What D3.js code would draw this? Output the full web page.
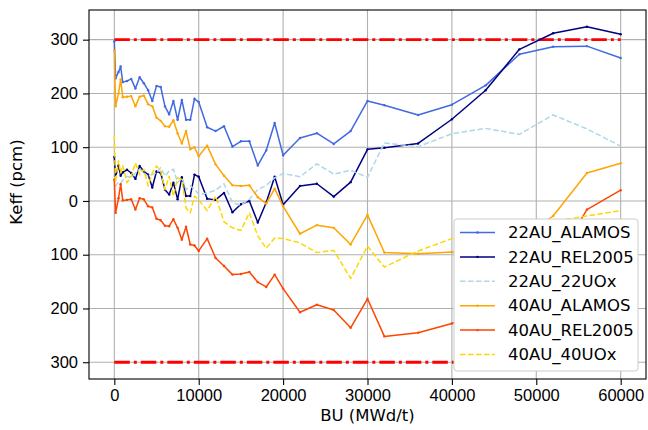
<!DOCTYPE html>
<html>
<head>
<meta charset="utf-8">
<script src="https://cdn.jsdelivr.net/npm/d3@7"></script>
<style>
  body { margin: 0; background: #fff; }
  svg { display: block; font-family: "DejaVu Sans", sans-serif; }
</style>
</head>
<body>
<svg class="chart"></svg>
<script>
// burnup steps (MWd/t), same for every case
const bu = [0, 150, 500, 750, 1000, 1500, 2000, 2500, 3000, 3500, 4000, 4500, 5000, 5500,
  6000, 6500, 7000, 7500, 8000, 8500, 9000, 9500, 10000, 11000, 12000, 13000, 14000, 15000,
  16000, 17000, 18000, 19000, 20000, 22000, 24000, 26000, 28000, 30000, 32000, 36000, 40000,
  44000, 48000, 52000, 56000, 60000];

// keff difference in pcm for each case
const au22Alamos = [297, 228, 240, 250, 221, 223, 227, 209, 230, 219, 206, 186, 214, 212,
  176, 161, 186, 151, 188, 151, 151, 190, 184, 137, 130, 139, 101, 111,
  111, 66, 94, 145, 85, 117, 126, 106, 130, 186, 178, 160, 179,
  215, 273, 287, 288, 266];

const au22Rel2005 = [82, 45, 66, 47, 53, 58, 52, 41, 65, 55, 49, 25, 55, 52,
  21, 12, 34, 3, 44, 9, 9, 49, 45, 4, 2, 15, -21, -6,
  0, -40, -3, 45, -7, 28, 32, 8, 35, 96, 99, 107, 152,
  206, 282, 312, 324, 310];

const au22Uox = [45, 28, 35, 33, 38, 46, 43, 52, 59, 52, 46, 49, 52, 62,
  46, 56, 59, 34, 43, 21, 28, 22, 12, 15, 20, 32, -3, -8,
  3, 21, 29, 43, 51, 45, 69, 50, 57, 44, 108, 101, 125,
  135, 124, 160, 134, 102];

const au40Alamos = [280, 176, 200, 226, 193, 194, 195, 176, 194, 196, 180, 176, 155, 149,
  139, 138, 150, 126, 107, 130, 96, 100, 83, 103, 68, 47, 29, 28,
  29, 7, -5, 23, -10, -61, -45, -50, -81, -26, -96, -98, -95,
  -96, -72, -28, 52, 70];

const au40Rel2005 = [40, -22, 5, 31, 1, 2, 3, -16, 5, 3, -10, -12, -33, -36,
  -46, -47, -34, -50, -72, -48, -81, -83, -93, -70, -106, -121, -137, -136,
  -132, -151, -160, -137, -163, -207, -193, -203, -236, -182, -252, -245, -228,
  -205, -165, -120, -16, 20];

const au40Uox = [121, 35, 75, 52, 66, 34, 46, 71, 49, 59, 28, 52, 65, 55,
  21, 46, 9, 43, 40, -13, -22, 9, 2, -18, 9, -39, -50, -55,
  -22, -65, -88, -69, -70, -78, -96, -92, -144, -84, -123, -93, -70,
  -60, -48, -38, -28, -18];

// the +/- 300 pcm limits
const limits = [300, -300];

const seriesNames = ["22AU_ALAMOS", "22AU_REL2005", "22AU_22UOx", "40AU_ALAMOS", "40AU_REL2005", "40AU_40UOx"];
const seriesColors = ["#4169e1", "#000080", "#add8e6", "#ffa500", "#ff4500", "#ffd700"];
const seriesDash = [null, null, "5.5,2.5", null, null, "5.5,2.5"];
const seriesDots = [true, true, false, true, true, false];
const allSeries = [au22Alamos, au22Rel2005, au22Uox, au40Alamos, au40Rel2005, au40Uox];

const xTicks = [0, 10000, 20000, 30000, 40000, 50000, 60000];
const yTicks = [-300, -200, -100, 0, 100, 200, 300];

const width = 648;
const height = 430;
const margin = { top: 10, right: 2, bottom: 51, left: 89 };

const svg = d3.select(".chart")
  .attr("width", width)
  .attr("height", height);

// matplotlib style 5% padding around the data
const xPad = (d3.max(bu) - d3.min(bu)) * 0.05;
const allVals = allSeries.flat().concat(limits);
const yPad = (d3.max(allVals) - d3.min(allVals)) * 0.05;

const x = d3.scaleLinear()
  .domain([d3.min(bu) - xPad, d3.max(bu) + xPad])
  .range([margin.left, width - margin.right]);

const y = d3.scaleLinear()
  .domain([d3.min(allVals) - yPad, d3.max(allVals) + yPad])
  .range([height - margin.bottom, margin.top]);

const plot = svg.append("g");

// grid
plot.append("g").selectAll("line")
  .data(xTicks)
  .join("line")
  .attr("x1", d => x(d)).attr("x2", d => x(d))
  .attr("y1", margin.top).attr("y2", height - margin.bottom)
  .attr("stroke", "#b0b0b0").attr("stroke-width", 1.1);

plot.append("g").selectAll("line")
  .data(yTicks)
  .join("line")
  .attr("x1", margin.left).attr("x2", width - margin.right)
  .attr("y1", d => y(d)).attr("y2", d => y(d))
  .attr("stroke", "#b0b0b0").attr("stroke-width", 1.1);

// clip so nothing leaks out of the frame
svg.append("clipPath").attr("id", "clip")
  .append("rect")
  .attr("x", margin.left).attr("y", margin.top)
  .attr("width", width - margin.left - margin.right)
  .attr("height", height - margin.top - margin.bottom);

const lines = plot.append("g").attr("clip-path", "url(#clip)");

// red dash-dot limits
lines.selectAll(".limit")
  .data(limits)
  .join("line")
  .attr("class", "limit")
  .attr("x1", x(d3.min(bu))).attr("x2", x(d3.max(bu)))
  .attr("y1", d => y(d)).attr("y2", d => y(d))
  .attr("stroke", "red")
  .attr("stroke-width", 2.8)
  .attr("stroke-dasharray", "15.5,4,3,4");

const line = d3.line()
  .x((d, i) => x(bu[i]))
  .y(d => y(d));

allSeries.forEach((vals, k) => {
  lines.append("path")
    .datum(vals)
    .attr("d", line)
    .attr("fill", "none")
    .attr("stroke", seriesColors[k])
    .attr("stroke-width", 1.5)
    .attr("stroke-linejoin", "round")
    .attr("stroke-dasharray", seriesDash[k]);

  if (seriesDots[k]) {
    lines.append("g").selectAll("circle")
      .data(vals)
      .join("circle")
      .attr("cx", (d, i) => x(bu[i]))
      .attr("cy", d => y(d))
      .attr("r", 1.2)
      .attr("fill", seriesColors[k]);
  }
});

// axes
const xAxis = d3.axisBottom(x)
  .tickValues(xTicks)
  .tickFormat(d3.format("d"))
  .tickSize(6)
  .tickPadding(4);

const yAxis = d3.axisLeft(y)
  .tickValues(yTicks)
  .tickFormat(d => Math.abs(d)) // the picture shows no minus signs
  .tickSize(6)
  .tickPadding(5);

const gx = svg.append("g")
  .attr("transform", `translate(0,${height - margin.bottom})`)
  .call(xAxis);
const gy = svg.append("g")
  .attr("transform", `translate(${margin.left},0)`)
  .call(yAxis);

[gx, gy].forEach(g => {
  g.select(".domain").remove();
  g.selectAll(".tick line").attr("stroke", "#000").attr("stroke-width", 1.1);
  g.selectAll(".tick text").attr("fill", "#000").style("font-size", "16.5px");
});

// frame
svg.append("rect")
  .attr("x", margin.left).attr("y", margin.top)
  .attr("width", width - margin.left - margin.right)
  .attr("height", height - margin.top - margin.bottom)
  .attr("fill", "none")
  .attr("stroke", "#000")
  .attr("stroke-width", 1.1);

// axis labels
svg.append("text")
  .attr("x", (margin.left + width - margin.right) / 2)
  .attr("y", 421)
  .attr("text-anchor", "middle")
  .style("font-size", "16.5px")
  .text("BU (MWd/t)");

svg.append("text")
  .attr("transform", "translate(22,182) rotate(-90)")
  .attr("text-anchor", "middle")
  .style("font-size", "16.5px")
  .text("Keff (pcm)");

// legend (covers the lines behind it)
const legend = svg.append("g").attr("transform", "translate(454,219)");

legend.append("rect")
  .attr("width", 184)
  .attr("height", 152)
  .attr("rx", 3)
  .attr("fill", "#fff")
  .attr("stroke", "#cccccc");

const rows = legend.selectAll(".row")
  .data(seriesNames)
  .join("g")
  .attr("class", "row")
  .attr("transform", (d, i) => `translate(0,${13.5 + i * 24.4})`);

rows.append("line")
  .attr("x1", 6).attr("x2", 41)
  .attr("stroke", (d, i) => seriesColors[i])
  .attr("stroke-width", 1.5)
  .attr("stroke-dasharray", (d, i) => seriesDash[i]);

rows.filter((d, i) => seriesDots[i])
  .append("circle")
  .attr("cx", 23.5)
  .attr("r", 1.2)
  .attr("fill", (d) => seriesColors[seriesNames.indexOf(d)]);

rows.append("text")
  .attr("x", 54)
  .attr("dy", "0.35em")
  .style("font-size", "16.5px")
  .attr("fill", "#000")
  .text(d => d);
</script>
</body>
</html>
